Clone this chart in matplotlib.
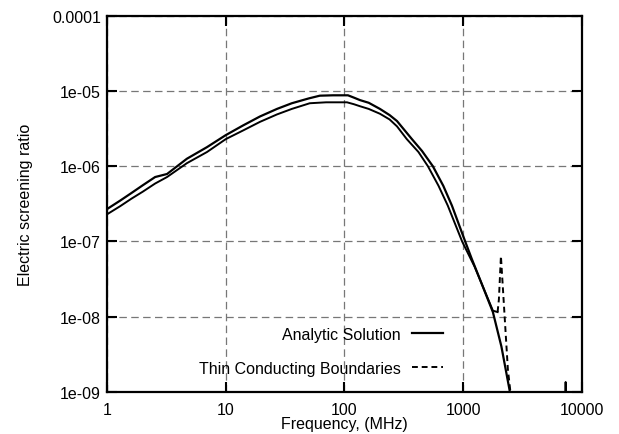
import matplotlib
matplotlib.use("Agg")
import matplotlib.pyplot as plt
from matplotlib.ticker import FixedLocator, FixedFormatter, NullLocator

plt.rcParams['font.family'] = ['Liberation Sans', 'DejaVu Sans']
plt.rcParams['font.size'] = 11.5

# Analytic solution (MHz, ratio)
freq_a = [1, 1.29, 1.6, 2.0, 2.54, 3.2, 4.7, 6.95, 10, 14, 19.4, 27, 36, 50, 62, 80,
          107, 120, 135, 160, 199, 240, 277, 370, 450, 556, 680, 804, 1040, 1180,
          1400, 1780, 2100, 2475, 2600]
ratio_a = [2.7e-7, 3.5e-7, 4.4e-7, 5.6e-7, 7.2e-7, 7.9e-7, 1.26e-6, 1.8e-6, 2.6e-6,
           3.5e-6, 4.6e-6, 5.8e-6, 6.9e-6, 8.0e-6, 8.7e-6, 8.8e-6, 8.8e-6, 8.2e-6,
           7.6e-6, 7.0e-6, 5.8e-6, 4.8e-6, 4.0e-6, 2.3e-6, 1.6e-6, 1.0e-6, 5.5e-7,
           3.0e-7, 1.0e-7, 5.9e-8, 3.0e-8, 1.15e-8, 4.0e-9, 1.0e-9, 7e-10]

# Thin conducting boundaries
freq_t = [1, 1.29, 1.6, 2.0, 2.54, 3.2, 4.7, 6.95, 10, 14, 19.4, 27, 36, 51, 70, 105,
          120, 135, 160, 199, 240, 277, 335, 420, 505, 620, 742, 980, 1250, 1500,
          1780, 1950, 2000, 2080, 2380, 2500, 2600, 7200, 7300, 7400]
ratio_t = [2.3e-7, 2.95e-7, 3.7e-7, 4.6e-7, 5.9e-7, 7.2e-7, 1.1e-6, 1.55e-6, 2.3e-6,
           3.0e-6, 3.9e-6, 4.9e-6, 5.8e-6, 6.9e-6, 7.1e-6, 7.1e-6, 6.7e-6, 6.3e-6,
           5.8e-6, 5.0e-6, 4.2e-6, 3.4e-6, 2.3e-6, 1.55e-6, 1.0e-6, 5.5e-7, 3.0e-7,
           1.0e-7, 4.6e-8, 2.3e-8, 1.2e-8, 1.15e-8, 1.7e-8, 6.4e-8, 2.0e-9, 1.0e-9,
           6e-10, 6e-10, 1.35e-9, 6e-10]

xticks = [1, 10, 100, 1000, 10000]
xtick_labels = ["1", "10", "100", "1000", "10000"]
yticks = [1e-9, 1e-8, 1e-7, 1e-6, 1e-5, 1e-4]
ytick_labels = ["1e-09", "1e-08", "1e-07", "1e-06", "1e-05", "0.0001"]

fig = plt.figure(figsize=(6.19, 4.35), dpi=100)
ax = fig.add_axes([0.173, 0.097, 0.767, 0.864])

ax.plot(freq_a, ratio_a, '-', color='black', lw=1.6, label="Analytic Solution")
# numerical curve looks solid where points are dense, dashed on the resonance part
split = freq_t.index(1950)
spike = freq_t.index(7200)
ax.plot(freq_t[:split + 1], ratio_t[:split + 1], '-', color='black', lw=1.4)
ax.plot(freq_t[split:spike], ratio_t[split:spike], color='black', lw=1.4,
        dashes=(3, 2), label="Thin Conducting Boundaries")
ax.plot(freq_t[spike:], ratio_t[spike:], '-', color='black', lw=1.4)

ax.set_xscale('log')
ax.set_yscale('log')
ax.set_xlim(1, 10000)
ax.set_ylim(1e-9, 1e-4)

ax.xaxis.set_major_locator(FixedLocator(xticks))
ax.xaxis.set_major_formatter(FixedFormatter(xtick_labels))
ax.yaxis.set_major_locator(FixedLocator(yticks))
ax.yaxis.set_major_formatter(FixedFormatter(ytick_labels))
ax.xaxis.set_minor_locator(NullLocator())
ax.yaxis.set_minor_locator(NullLocator())

ax.tick_params(which='major', direction='in', length=7, width=1.5,
               top=True, right=True)
ax.tick_params(axis='x', pad=7.5)
ax.tick_params(axis='y', pad=4.5)
for s in ax.spines.values():
    s.set_linewidth(1.6)

ax.grid(True, color='#777777', linestyle=(0, (6, 3.5)), linewidth=0.9)

ax.set_xlabel("Frequency, (MHz)", labelpad=-1)
ax.set_ylabel("Electric screening ratio", labelpad=14)

ax.legend(loc='center right', bbox_to_anchor=(0.707, 0.108), frameon=False,
          markerfirst=False, handlelength=1.95, handletextpad=0.7,
          labelspacing=1.2, borderpad=0, borderaxespad=0)

fig.savefig("out.png", dpi=100)
